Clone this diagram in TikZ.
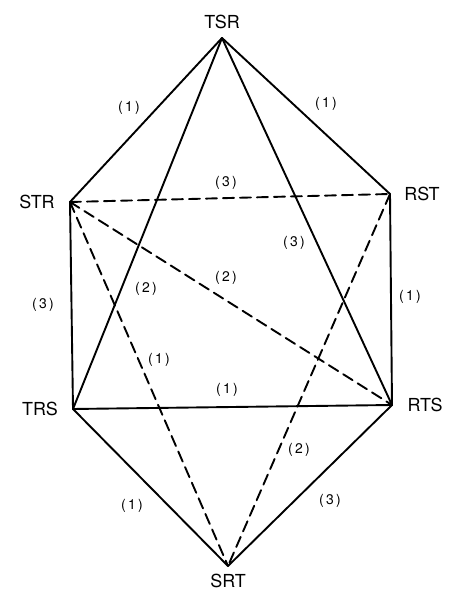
\documentclass[tikz,border=0pt]{standalone}
\usepackage{fontspec}
\setmainfont{TeX Gyre Heros}
\begin{document}
\begin{tikzpicture}[x=1bp,y=1bp,
  edge/.style={line width=1.9bp, line join=round, line cap=round},
  dedge/.style={edge, dash pattern=on 11bp off 6bp},
  vlab/.style={font=\fontsize{18}{18}\selectfont, inner sep=0pt},
  elab/.style={font=\fontsize{14}{14}\selectfont, inner sep=0pt}]
\useasboundingbox (0,0) rectangle (450,591);
% vertices
\coordinate (tsr) at (222,553);
\coordinate (str) at (70,389);
\coordinate (rst) at (390,397);
\coordinate (trs) at (73,182);
\coordinate (rts) at (392,186);
\coordinate (srt) at (228,25);
% vertex labels
\node[vlab] (ltsr) at (222,569) {TSR};
\node[vlab] (lstr) at (37,389) {STR};
\node[vlab] (lrst) at (422,397) {RST};
\node[vlab] (ltrs) at (40,182) {TRS};
\node[vlab] (lrts) at (425,186) {RTS};
\node[vlab] (lsrt) at (228,10) {SRT};
% solid edges
\draw[edge] (tsr) -- (str);
\draw[edge] (tsr) -- (rst);
\draw[edge] (tsr) -- (trs);
\draw[edge] (tsr) -- (rts);
\draw[edge] (str) -- (trs);
\draw[edge] (rst) -- (rts);
\draw[edge] (trs) -- (rts);
\draw[edge] (trs) -- (srt);
\draw[edge] (rts) -- (srt);
% dashed edges
\draw[dedge] (str) -- (rst);
\draw[dedge] (str) -- (rts);
\draw[dedge] (str) -- (srt);
\draw[dedge] (rst) -- (srt);
% edge labels
\node[elab] (e1) at (129,483) {(\,1\,)};
\node[elab] (e2) at (326,487) {(\,1\,)};
\node[elab] (e3) at (226,408) {(\,3\,)};
\node[elab] (e4) at (294,348) {(\,3\,)};
\node[elab] (e5) at (226,313) {(\,2\,)};
\node[elab] (e6) at (146,302) {(\,2\,)};
\node[elab] (e7) at (43,286) {(\,3\,)};
\node[elab] (e8) at (410,294) {(\,1\,)};
\node[elab] (e9) at (159,231) {(\,1\,)};
\node[elab] (e10) at (227,201) {(\,1\,)};
\node[elab] (e11) at (299,141) {(\,2\,)};
\node[elab] (e12) at (132,85) {(\,1\,)};
\node[elab] (e13) at (330,90) {(\,3\,)};
\end{tikzpicture}
\end{document}
